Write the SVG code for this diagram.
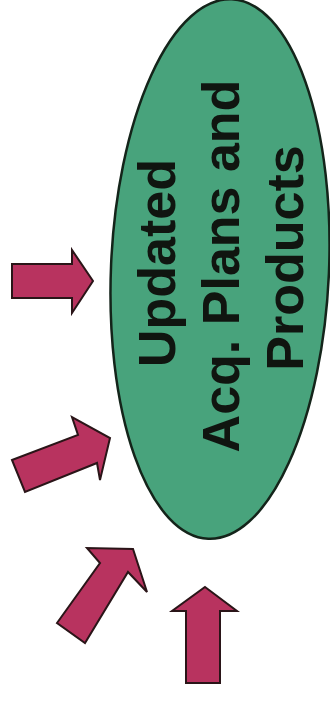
<svg xmlns="http://www.w3.org/2000/svg" width="330" height="701" viewBox="0 0 330 701">
<style>
.node{fill:#48a37c;stroke:#14241a;stroke-width:2.5}
.lbl{font-family:"Liberation Sans",Arial,sans-serif;font-weight:bold;font-size:52px;fill:#101510;text-anchor:middle}
.arr{fill:#b8335f;stroke:#2a1518;stroke-width:2;stroke-linejoin:miter}
</style>
<rect width="330" height="701" fill="#ffffff"/>
<g id="node-plans">
<ellipse class="node" cx="220" cy="269" rx="109" ry="270" transform="rotate(2.5 220 269)"/>
<text class="lbl" transform="translate(175,263) rotate(-90)">Updated</text>
<text class="lbl" transform="translate(239,266) rotate(-90)">Acq. Plans and</text>
<text class="lbl" transform="translate(303,258) rotate(-90)">Products</text>
</g>
<g id="connectors">
<polygon class="arr" points="12,264 72,264 72,250 93,281 72,313 72,298 12,298"/>
<polygon class="arr" points="12,460 78,435 72,417 110,438 100,480 97,463 25,492"/>
<polygon class="arr" points="57,623 100,563 87,548 133,549 147,592 128,572 85,643"/>
<polygon class="arr" points="205,587 237,611 220,611 220,683 186,683 186,611 172,611"/>
</g>
</svg>
